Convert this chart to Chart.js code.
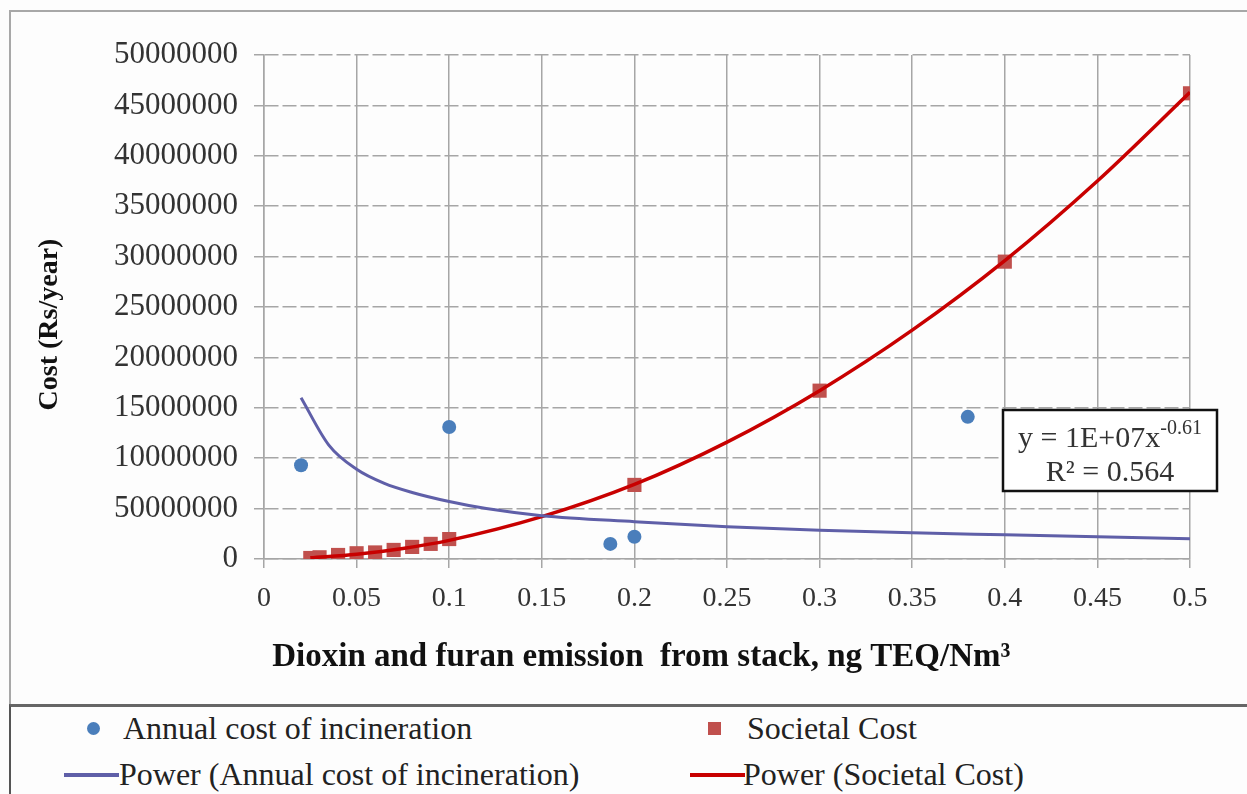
<!DOCTYPE html>
<html>
<head>
<meta charset="utf-8">
<script src="https://cdn.jsdelivr.net/npm/chart.js@4.4.0/dist/chart.umd.min.js"></script>
<style>
    body { margin: 0; background: #fff; }
    #wrap { position: relative; width: 1247px; height: 794px; overflow: hidden; background: #fdfdfd; }
    #frame { position: absolute; left: 9px; top: 10px; width: 1300px; height: 700px; border-left: 2px solid #a8a8a8; border-top: 2px solid #a8a8a8; }
    #chart { position: absolute; left: 0; top: 0; }
    #legend { position: absolute; left: 9px; top: 704px; width: 1300px; height: 120px; border-left: 2px solid #555; border-top: 3px solid #666; background: #fdfdfd;
              font-family: 'Liberation Serif', 'Times New Roman', serif; font-size: 32px; color: #222; }
    .item { position: absolute; white-space: nowrap; line-height: 1; }
    .sym { position: absolute; }
</style>
</head>
<body>
<div id="wrap">
    <div id="frame"></div>
    <canvas id="chart" width="1247" height="794"></canvas>
    <div id="legend"></div>
</div>
<script>
// tick labels (as printed in the original, including its 5000000 typo)
const xTickLabels = ['0', '0.05', '0.1', '0.15', '0.2', '0.25', '0.3', '0.35', '0.4', '0.45', '0.5'];
const yTickLabels = ['0', '50000000', '10000000', '15000000', '20000000', '25000000',
                     '30000000', '35000000', '40000000', '45000000', '50000000'];

// Annual cost of incineration (points)
const incinerationX = [0.02, 0.1, 0.187, 0.2, 0.38];
const incinerationY = [9300000, 13100000, 1500000, 2200000, 14100000];

// Societal Cost (points)
const societalX = [0.025, 0.03, 0.04, 0.05, 0.06, 0.07, 0.08, 0.09, 0.1, 0.2, 0.3, 0.4, 0.5];
const societalY = [100000, 170000, 400000, 570000, 650000, 900000, 1200000, 1500000, 1980000,
                   7350000, 16700000, 29500000, 46200000];

// Power trendlines
const incTrendX = [0.02, 0.035, 0.05, 0.065, 0.08, 0.1, 0.12, 0.15, 0.2, 0.25, 0.3, 0.35, 0.4, 0.45, 0.5];
const incTrendY = [16000000, 11300000, 8900000, 7500000, 6600000, 5700000, 5000000, 4300000,
                   3700000, 3200000, 2850000, 2600000, 2400000, 2200000, 2000000];
const socTrendX = [0.025, 0.05, 0.075, 0.1, 0.15, 0.2, 0.25, 0.3, 0.35, 0.4, 0.45, 0.5];
const socTrendY = [120000, 470000, 1050000, 1850000, 4200000, 7400000, 11600000, 16700000,
                   22700000, 29600000, 37500000, 46300000];

const equationText = 'y = 1E+07x';
const equationExp = '-0.61';
const rSquaredText = 'R\u00B2 = 0.564';

const toPoints = (xs, ys) => xs.map((x, i) => ({ x: x, y: ys[i] }));

const serif = "'Liberation Serif', 'Times New Roman', serif";

const datasets = [
    {
        label: 'Power (Annual cost of incineration)',
        data: toPoints(incTrendX, incTrendY),
        showLine: true, pointRadius: 0,
        borderColor: '#5f5fa8', borderWidth: 3,
        cubicInterpolationMode: 'monotone',
        legendSymbol: 'line'
    },
    {
        label: 'Power (Societal Cost)',
        data: toPoints(socTrendX, socTrendY),
        showLine: true, pointRadius: 0,
        borderColor: '#c80000', borderWidth: 3.5,
        cubicInterpolationMode: 'monotone',
        legendSymbol: 'line'
    },
    {
        label: 'Annual cost of incineration',
        data: toPoints(incinerationX, incinerationY),
        pointStyle: 'circle', pointRadius: 7,
        backgroundColor: '#4a7ebb', borderColor: '#4a7ebb', borderWidth: 0,
        legendSymbol: 'circle'
    },
    {
        label: 'Societal Cost',
        data: toPoints(societalX, societalY),
        pointStyle: 'rect', pointRadius: 10,
        backgroundColor: '#c0504d', borderColor: '#c0504d', borderWidth: 0,
        legendSymbol: 'rect'
    }
];

// trendline equation box
const equationBox = {
    id: 'equationBox',
    afterDatasetsDraw(chart) {
        const ctx = chart.ctx;
        const left = 1003, top = 410, w = 214, h = 81;
        ctx.save();
        ctx.fillStyle = '#ffffff';
        ctx.fillRect(left, top, w, h);
        ctx.lineWidth = 2.5;
        ctx.strokeStyle = '#111';
        ctx.strokeRect(left, top, w, h);
        ctx.fillStyle = '#333';
        ctx.textBaseline = 'alphabetic';
        ctx.font = '30px ' + serif;
        const mainW = ctx.measureText(equationText).width;
        ctx.font = '20px ' + serif;
        const expW = ctx.measureText(equationExp).width;
        let x = left + (w - mainW - expW) / 2;
        ctx.font = '30px ' + serif;
        ctx.textAlign = 'left';
        ctx.fillText(equationText, x, top + 37);
        ctx.font = '20px ' + serif;
        ctx.fillText(equationExp, x + mainW, top + 24);
        ctx.font = '30px ' + serif;
        ctx.textAlign = 'center';
        ctx.fillText(rSquaredText, left + w / 2, top + 71);
        ctx.restore();
    }
};

new Chart(document.getElementById('chart'), {
    type: 'scatter',
    data: { datasets: datasets },
    options: {
        responsive: false,
        animation: false,
        layout: { padding: { left: 0, top: 55, right: 57, bottom: 115 } },
        plugins: { legend: { display: false }, tooltip: { enabled: false } },
        scales: {
            x: {
                type: 'linear', min: 0, max: 0.5,
                afterFit: (s) => { s.height = 120; },
                afterBuildTicks: (s) => { s.ticks = xTickLabels.map((t, i) => ({ value: i * 0.05 })); },
                ticks: {
                    callback: (v, i) => xTickLabels[i],
                    font: { family: serif, size: 28 }, color: '#333', padding: 14, maxRotation: 0
                },
                grid: { color: '#a6a6a6', lineWidth: 1.5, tickLength: 9 },
                border: { color: '#a6a6a6', width: 1.5 },
                title: {
                    display: true, text: ' Dioxin and furan emission  from stack, ng TEQ/Nm\u00B3',
                    align: 'start',
                    font: { family: serif, size: 33, weight: 'bold' }, color: '#111',
                    padding: { bottom: 2 }
                }
            },
            y: {
                type: 'linear', min: 0, max: 50000000,
                afterFit: (s) => { s.width = 264; },
                afterBuildTicks: (s) => { s.ticks = yTickLabels.map((t, i) => ({ value: i * 5000000 })); },
                ticks: {
                    callback: (v, i) => yTickLabels[i],
                    font: { family: serif, size: 31 }, color: '#333', padding: 16
                },
                grid: { color: '#a6a6a6', lineWidth: 1.5, tickLength: 10 },
                // horizontal gridlines are dashed in the original
                border: { color: '#a6a6a6', width: 1.5, dash: [14, 4] },
                title: {
                    display: true, text: 'Cost (Rs/year)\u00A0\u00A0\u00A0\u00A0\u00A0',
                    font: { family: serif, size: 28, weight: 'bold' }, color: '#111',
                    padding: { top: 33 }
                }
            }
        }
    },
    plugins: [equationBox]
});

// legend, built from the datasets
const legendPos = {
    'Annual cost of incineration': { row: 0, left: 76, text: 112 },
    'Societal Cost': { row: 0, left: 697, text: 736 },
    'Power (Annual cost of incineration)': { row: 1, left: 53, text: 108 },
    'Power (Societal Cost)': { row: 1, left: 679, text: 732 }
};
const legend = document.getElementById('legend');
datasets.forEach(ds => {
    const p = legendPos[ds.label];
    const top = p.row === 0 ? 5 : 51;
    const sym = document.createElement('div');
    sym.className = 'sym';
    if (ds.legendSymbol === 'circle') {
        sym.style.cssText = `left:${p.left}px;top:${top + 10}px;width:13px;height:13px;border-radius:50%;background:${ds.backgroundColor}`;
    } else if (ds.legendSymbol === 'rect') {
        sym.style.cssText = `left:${p.left}px;top:${top + 10}px;width:13px;height:13px;background:${ds.backgroundColor}`;
    } else {
        sym.style.cssText = `left:${p.left}px;top:${top + 15}px;width:55px;height:4px;background:${ds.borderColor}`;
    }
    const txt = document.createElement('div');
    txt.className = 'item';
    txt.style.left = p.text + 'px';
    txt.style.top = top + 'px';
    txt.textContent = ds.label;
    legend.appendChild(sym);
    legend.appendChild(txt);
});
</script>
</body>
</html>
